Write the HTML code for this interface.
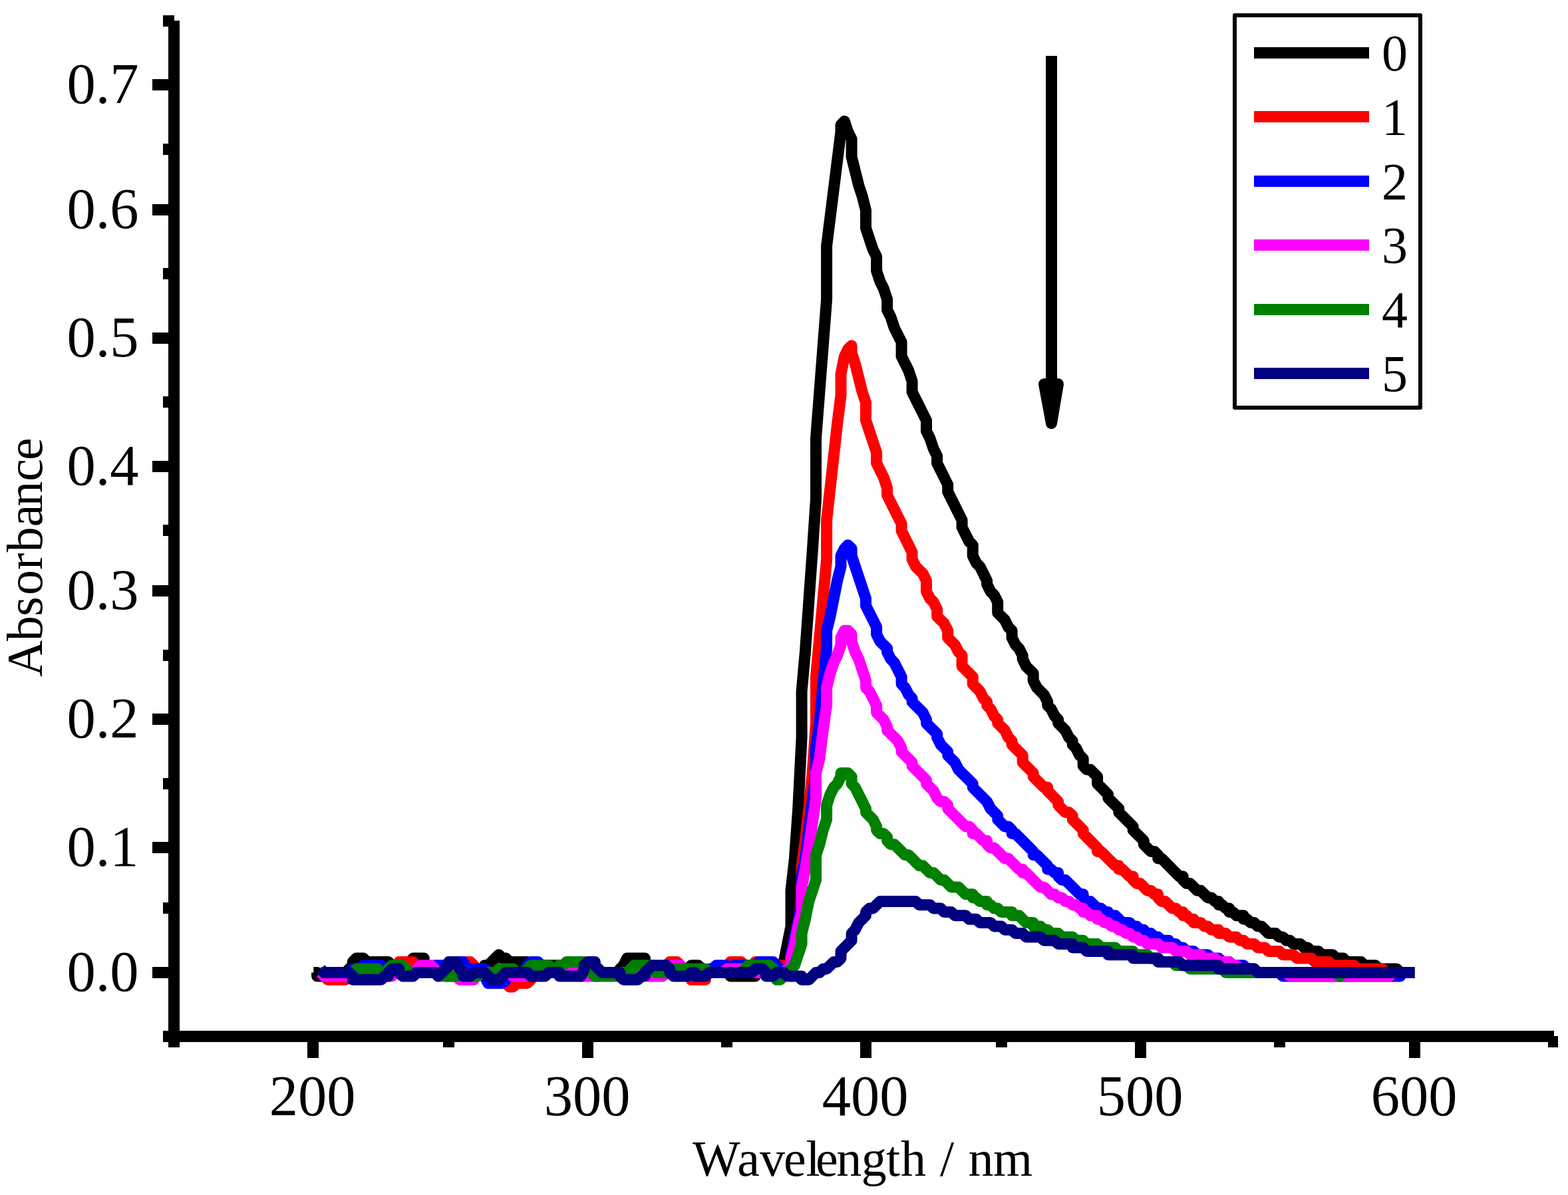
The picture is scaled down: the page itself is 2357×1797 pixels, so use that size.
<!DOCTYPE html>
<html lang="en"><head><meta charset="utf-8"><title>Absorbance vs Wavelength</title>
<style>html,body{margin:0;padding:0;background:#fff}body{width:2357px;height:1797px;overflow:hidden}svg{display:block}text{font-family:"Liberation Serif","Times New Roman",Times,serif;fill:#000}</style>
</head><body>
<svg xmlns="http://www.w3.org/2000/svg" width="2357" height="1797" viewBox="0 0 2357 1797">
<rect x="0" y="0" width="2357" height="1797" fill="#fff"/>
<g fill="none" stroke-width="17" stroke-linejoin="round" stroke-linecap="butt">
<path d="M471.3 1462.5 L476.6 1462.5 L476.6 1467.9 L503.4 1467.9 L508.8 1462.5 L519.5 1462.5 L530.2 1451.8 L530.2 1446.4 L535.5 1441.1 L546.2 1441.1 L551.6 1446.4 L583.7 1446.4 L589.1 1451.8 L594.5 1462.5 L605.2 1462.5 L610.5 1457.1 L615.9 1446.4 L621.2 1441.1 L637.3 1441.1 L637.3 1446.4 L642.7 1457.1 L648.0 1462.5 L723.0 1462.5 L728.4 1457.1 L728.4 1451.8 L733.7 1451.8 L749.8 1435.7 L755.1 1441.1 L760.5 1441.1 L765.9 1446.4 L792.6 1446.4 L798.0 1451.8 L840.8 1451.8 L840.8 1457.1 L846.2 1457.1 L851.6 1462.5 L931.9 1462.5 L931.9 1457.1 L937.3 1451.8 L942.6 1441.1 L969.4 1441.1 L969.4 1446.4 L974.8 1457.1 L980.1 1462.5 L1028.3 1462.5 L1039.0 1451.8 L1049.7 1451.8 L1060.5 1462.5 L1097.9 1462.5 L1097.9 1467.9 L1135.4 1467.9 L1135.4 1462.5 L1140.8 1451.8 L1146.2 1446.4 L1156.9 1446.4 L1172.9 1462.5 L1172.9 1457.1 L1178.3 1446.4 L1189.0 1392.9 L1189.0 1339.3 L1194.4 1291.1 L1199.7 1216.1 L1205.1 1109.0 L1205.1 1039.4 L1210.4 980.4 L1221.1 830.5 L1226.5 750.1 L1226.5 659.1 L1242.6 450.2 L1242.6 369.8 L1264.0 198.4 L1264.0 187.7 L1269.4 182.3 L1274.7 198.4 L1280.1 209.1 L1280.1 235.9 L1290.8 278.8 L1296.1 294.8 L1301.5 316.3 L1301.5 343.0 L1312.2 375.2 L1317.6 385.9 L1317.6 407.3 L1322.9 423.4 L1328.3 434.1 L1333.6 450.2 L1333.6 466.2 L1339.0 476.9 L1344.3 493.0 L1355.1 514.4 L1355.1 535.9 L1365.8 557.3 L1371.1 573.4 L1371.1 589.4 L1392.5 632.3 L1392.5 648.3 L1397.9 659.1 L1403.3 675.1 L1408.6 685.8 L1408.6 696.5 L1424.7 728.7 L1424.7 739.4 L1446.1 782.2 L1446.1 793.0 L1456.8 814.4 L1462.2 819.7 L1462.2 835.8 L1467.5 846.5 L1472.9 851.9 L1483.6 873.3 L1483.6 878.7 L1489.0 889.4 L1494.3 894.7 L1499.7 905.4 L1499.7 921.5 L1510.4 932.2 L1515.7 942.9 L1521.1 948.3 L1521.1 959.0 L1526.5 969.7 L1531.8 975.1 L1537.2 985.8 L1537.2 991.1 L1542.5 1001.9 L1553.2 1012.6 L1553.2 1023.3 L1558.6 1034.0 L1569.3 1044.7 L1574.7 1055.4 L1574.7 1060.8 L1580.0 1066.1 L1585.4 1076.8 L1590.7 1082.2 L1590.7 1087.6 L1601.4 1098.3 L1606.8 1109.0 L1612.2 1114.3 L1612.2 1119.7 L1617.5 1125.1 L1622.9 1135.8 L1628.2 1141.1 L1628.2 1151.8 L1633.6 1157.2 L1638.9 1157.2 L1649.6 1167.9 L1649.6 1178.6 L1665.7 1194.7 L1665.7 1200.0 L1681.8 1216.1 L1681.8 1221.5 L1703.2 1242.9 L1703.2 1248.2 L1719.3 1264.3 L1719.3 1269.7 L1730.0 1280.4 L1735.3 1280.4 L1740.7 1285.7 L1740.7 1291.1 L1746.1 1291.1 L1772.8 1317.9 L1778.2 1317.9 L1778.2 1323.2 L1783.6 1328.6 L1788.9 1328.6 L1799.6 1339.3 L1805.0 1339.3 L1815.7 1350.0 L1821.0 1350.0 L1826.4 1355.4 L1831.8 1355.4 L1831.8 1360.7 L1837.1 1360.7 L1842.5 1366.1 L1847.8 1366.1 L1847.8 1371.4 L1853.2 1371.4 L1858.5 1376.8 L1869.3 1376.8 L1869.3 1382.2 L1874.6 1382.2 L1880.0 1387.5 L1885.3 1387.5 L1890.7 1392.9 L1896.0 1392.9 L1906.8 1403.6 L1917.5 1403.6 L1922.8 1408.9 L1928.2 1408.9 L1933.5 1414.3 L1938.9 1414.3 L1944.2 1419.6 L1955.0 1419.6 L1960.3 1425.0 L1965.7 1425.0 L1971.0 1430.4 L1981.7 1430.4 L1987.1 1435.7 L2003.2 1435.7 L2008.5 1441.1 L2019.2 1441.1 L2024.6 1446.4 L2046.0 1446.4 L2051.4 1451.8 L2067.4 1451.8 L2072.8 1457.1 L2099.6 1457.1 L2104.9 1462.5 L2126.4 1462.5" stroke="#000000"/>
<path d="M482.0 1462.5 L487.3 1462.5 L492.7 1467.9 L492.7 1473.2 L519.5 1473.2 L530.2 1462.5 L594.5 1462.5 L599.8 1457.1 L599.8 1446.4 L621.2 1446.4 L621.2 1451.8 L632.0 1462.5 L690.9 1462.5 L696.2 1451.8 L696.2 1446.4 L706.9 1446.4 L712.3 1451.8 L712.3 1457.1 L728.4 1457.1 L733.7 1462.5 L749.8 1462.5 L749.8 1467.9 L765.9 1483.9 L771.2 1483.9 L776.6 1478.6 L792.6 1478.6 L798.0 1473.2 L803.4 1462.5 L996.2 1462.5 L1001.5 1451.8 L1006.9 1446.4 L1017.6 1446.4 L1033.7 1462.5 L1039.0 1473.2 L1060.5 1473.2 L1060.5 1467.9 L1065.8 1462.5 L1092.6 1462.5 L1097.9 1457.1 L1097.9 1446.4 L1114.0 1446.4 L1124.7 1457.1 L1130.1 1457.1 L1135.4 1446.4 L1151.5 1446.4 L1156.9 1451.8 L1189.0 1451.8 L1189.0 1441.1 L1194.4 1419.6 L1199.7 1387.5 L1205.1 1350.0 L1205.1 1301.8 L1210.4 1264.3 L1215.8 1216.1 L1221.1 1162.5 L1226.5 1087.6 L1226.5 1017.9 L1242.6 841.2 L1242.6 782.2 L1258.6 637.6 L1264.0 594.8 L1264.0 562.6 L1269.4 535.9 L1274.7 525.1 L1280.1 519.8 L1280.1 530.5 L1285.4 546.6 L1296.1 589.4 L1301.5 605.5 L1301.5 632.3 L1317.6 680.5 L1317.6 696.5 L1328.3 718.0 L1333.6 734.0 L1333.6 744.8 L1355.1 787.6 L1355.1 798.3 L1371.1 830.5 L1371.1 841.2 L1376.5 851.9 L1387.2 862.6 L1392.5 873.3 L1392.5 889.4 L1397.9 900.1 L1403.3 905.4 L1408.6 916.2 L1408.6 926.9 L1419.3 937.6 L1424.7 948.3 L1424.7 959.0 L1435.4 969.7 L1440.8 980.4 L1446.1 985.8 L1446.1 1001.9 L1462.2 1017.9 L1462.2 1028.6 L1472.9 1039.4 L1478.2 1050.1 L1483.6 1055.4 L1483.6 1060.8 L1489.0 1066.1 L1494.3 1076.8 L1499.7 1082.2 L1499.7 1087.6 L1510.4 1098.3 L1515.7 1109.0 L1521.1 1114.3 L1521.1 1119.7 L1537.2 1135.8 L1537.2 1146.5 L1553.2 1162.5 L1553.2 1167.9 L1569.3 1184.0 L1574.7 1184.0 L1574.7 1189.3 L1590.7 1205.4 L1590.7 1210.8 L1601.4 1221.5 L1606.8 1221.5 L1612.2 1226.8 L1612.2 1232.2 L1628.2 1248.2 L1628.2 1253.6 L1649.6 1275.0 L1649.6 1280.4 L1655.0 1280.4 L1676.4 1301.8 L1681.8 1301.8 L1681.8 1307.2 L1687.1 1307.2 L1697.9 1317.9 L1703.2 1317.9 L1703.2 1323.2 L1708.6 1328.6 L1713.9 1328.6 L1724.6 1339.3 L1730.0 1339.3 L1735.3 1344.7 L1740.7 1344.7 L1740.7 1350.0 L1746.1 1355.4 L1751.4 1355.4 L1762.1 1366.1 L1767.5 1366.1 L1772.8 1371.4 L1778.2 1371.4 L1778.2 1376.8 L1783.6 1376.8 L1788.9 1382.2 L1794.3 1382.2 L1794.3 1387.5 L1805.0 1387.5 L1810.3 1392.9 L1815.7 1392.9 L1821.0 1398.2 L1831.8 1398.2 L1831.8 1403.6 L1842.5 1403.6 L1847.8 1408.9 L1858.5 1408.9 L1863.9 1414.3 L1869.3 1414.3 L1874.6 1419.6 L1885.3 1419.6 L1890.7 1425.0 L1901.4 1425.0 L1906.8 1430.4 L1922.8 1430.4 L1928.2 1435.7 L1944.2 1435.7 L1949.6 1441.1 L1971.0 1441.1 L1976.4 1446.4 L1997.8 1446.4 L2003.2 1451.8 L2035.3 1451.8 L2040.7 1457.1 L2078.2 1457.1 L2083.5 1462.5 L2126.4 1462.5" stroke="#ff0000"/>
<path d="M482.0 1462.5 L524.8 1462.5 L530.2 1457.1 L540.9 1457.1 L546.2 1451.8 L573.0 1451.8 L583.7 1462.5 L642.7 1462.5 L653.4 1451.8 L674.8 1451.8 L674.8 1446.4 L696.2 1446.4 L701.6 1457.1 L728.4 1457.1 L728.4 1467.9 L733.7 1478.6 L755.1 1478.6 L760.5 1473.2 L765.9 1462.5 L787.3 1462.5 L792.6 1451.8 L798.0 1446.4 L808.7 1446.4 L814.1 1451.8 L819.4 1462.5 L1060.5 1462.5 L1065.8 1457.1 L1071.2 1457.1 L1076.5 1451.8 L1092.6 1451.8 L1097.9 1457.1 L1103.3 1451.8 L1135.4 1451.8 L1140.8 1446.4 L1162.2 1446.4 L1172.9 1457.1 L1172.9 1462.5 L1178.3 1462.5 L1189.0 1451.8 L1189.0 1435.7 L1194.4 1408.9 L1199.7 1387.5 L1205.1 1355.4 L1205.1 1317.9 L1210.4 1291.1 L1226.5 1162.5 L1226.5 1125.1 L1231.9 1087.6 L1237.2 1028.6 L1242.6 975.1 L1242.6 948.3 L1247.9 926.9 L1258.6 873.3 L1264.0 851.9 L1264.0 835.8 L1269.4 825.1 L1274.7 819.7 L1280.1 825.1 L1280.1 835.8 L1301.5 900.1 L1301.5 910.8 L1317.6 942.9 L1317.6 953.7 L1322.9 964.4 L1333.6 975.1 L1333.6 980.4 L1339.0 991.1 L1344.3 996.5 L1355.1 1017.9 L1355.1 1028.6 L1360.4 1034.0 L1365.8 1044.7 L1371.1 1050.1 L1371.1 1055.4 L1387.2 1071.5 L1392.5 1082.2 L1392.5 1087.6 L1408.6 1103.6 L1408.6 1109.0 L1414.0 1119.7 L1424.7 1130.4 L1424.7 1135.8 L1435.4 1146.5 L1440.8 1157.2 L1462.2 1178.6 L1462.2 1184.0 L1483.6 1205.4 L1489.0 1216.1 L1499.7 1226.8 L1499.7 1232.2 L1510.4 1242.9 L1515.7 1242.9 L1521.1 1248.2 L1521.1 1253.6 L1526.5 1253.6 L1553.2 1280.4 L1553.2 1285.7 L1558.6 1285.7 L1574.7 1301.8 L1574.7 1307.2 L1580.0 1307.2 L1585.4 1312.5 L1590.7 1312.5 L1590.7 1317.9 L1596.1 1323.2 L1601.4 1323.2 L1622.9 1344.7 L1628.2 1344.7 L1628.2 1350.0 L1633.6 1355.4 L1638.9 1355.4 L1649.6 1366.1 L1655.0 1366.1 L1660.4 1371.4 L1665.7 1371.4 L1665.7 1376.8 L1676.4 1376.8 L1687.1 1387.5 L1697.9 1387.5 L1703.2 1392.9 L1708.6 1392.9 L1713.9 1398.2 L1719.3 1398.2 L1719.3 1403.6 L1730.0 1403.6 L1735.3 1408.9 L1740.7 1408.9 L1746.1 1414.3 L1756.8 1414.3 L1756.8 1419.6 L1767.5 1419.6 L1772.8 1425.0 L1778.2 1425.0 L1783.6 1430.4 L1794.3 1430.4 L1799.6 1435.7 L1815.7 1435.7 L1821.0 1441.1 L1831.8 1441.1 L1837.1 1446.4 L1847.8 1446.4 L1853.2 1451.8 L1869.3 1451.8 L1874.6 1457.1 L1885.3 1457.1 L1885.3 1462.5 L1922.8 1462.5 L1928.2 1467.9 L2104.9 1467.9 L2104.9 1462.5 L2126.4 1462.5" stroke="#0000ff"/>
<path d="M482.0 1462.5 L487.3 1467.9 L524.8 1467.9 L530.2 1462.5 L573.0 1462.5 L578.4 1467.9 L589.1 1467.9 L594.5 1462.5 L621.2 1462.5 L632.0 1451.8 L648.0 1451.8 L658.7 1462.5 L658.7 1467.9 L685.5 1467.9 L690.9 1473.2 L712.3 1473.2 L712.3 1467.9 L717.7 1462.5 L765.9 1462.5 L771.2 1467.9 L792.6 1467.9 L798.0 1462.5 L824.8 1462.5 L824.8 1457.1 L840.8 1457.1 L846.2 1462.5 L867.6 1462.5 L873.0 1467.9 L899.8 1467.9 L905.1 1462.5 L969.4 1462.5 L974.8 1467.9 L996.2 1467.9 L1001.5 1462.5 L1006.9 1451.8 L1023.0 1451.8 L1023.0 1457.1 L1028.3 1462.5 L1087.2 1462.5 L1092.6 1457.1 L1119.4 1457.1 L1124.7 1462.5 L1178.3 1462.5 L1183.6 1457.1 L1189.0 1457.1 L1189.0 1441.1 L1194.4 1419.6 L1199.7 1392.9 L1205.1 1371.4 L1205.1 1333.9 L1210.4 1307.2 L1215.8 1275.0 L1226.5 1200.0 L1226.5 1162.5 L1231.9 1141.1 L1237.2 1098.3 L1242.6 1060.8 L1242.6 1034.0 L1247.9 1012.6 L1253.3 996.5 L1258.6 985.8 L1264.0 969.7 L1264.0 959.0 L1269.4 948.3 L1274.7 948.3 L1280.1 953.7 L1280.1 964.4 L1285.4 980.4 L1290.8 991.1 L1301.5 1023.3 L1301.5 1034.0 L1306.8 1039.4 L1317.6 1060.8 L1317.6 1071.5 L1328.3 1082.2 L1333.6 1092.9 L1333.6 1098.3 L1349.7 1114.3 L1355.1 1125.1 L1355.1 1130.4 L1371.1 1146.5 L1371.1 1151.8 L1392.5 1173.3 L1392.5 1178.6 L1403.3 1189.3 L1408.6 1200.0 L1414.0 1205.4 L1419.3 1205.4 L1424.7 1210.8 L1424.7 1216.1 L1451.5 1242.9 L1456.8 1242.9 L1462.2 1248.2 L1462.2 1253.6 L1467.5 1253.6 L1478.2 1264.3 L1483.6 1264.3 L1483.6 1269.7 L1489.0 1275.0 L1494.3 1275.0 L1510.4 1291.1 L1515.7 1291.1 L1531.8 1307.2 L1537.2 1307.2 L1537.2 1312.5 L1542.5 1312.5 L1563.9 1333.9 L1569.3 1333.9 L1580.0 1344.7 L1585.4 1344.7 L1590.7 1350.0 L1596.1 1350.0 L1601.4 1355.4 L1606.8 1355.4 L1612.2 1360.7 L1617.5 1360.7 L1622.9 1366.1 L1628.2 1366.1 L1628.2 1371.4 L1633.6 1371.4 L1638.9 1376.8 L1649.6 1376.8 L1649.6 1382.2 L1655.0 1382.2 L1660.4 1387.5 L1665.7 1387.5 L1671.1 1392.9 L1676.4 1392.9 L1681.8 1398.2 L1687.1 1398.2 L1692.5 1403.6 L1697.9 1403.6 L1703.2 1408.9 L1708.6 1408.9 L1713.9 1414.3 L1719.3 1414.3 L1724.6 1419.6 L1740.7 1419.6 L1746.1 1425.0 L1762.1 1425.0 L1767.5 1430.4 L1783.6 1430.4 L1788.9 1435.7 L1805.0 1435.7 L1810.3 1441.1 L1826.4 1441.1 L1831.8 1446.4 L1847.8 1446.4 L1847.8 1451.8 L1858.5 1451.8 L1863.9 1457.1 L1885.3 1457.1 L1885.3 1462.5 L1933.5 1462.5 L1938.9 1467.9 L2088.9 1467.9 L2094.2 1462.5 L2121.0 1462.5" stroke="#ff00ff"/>
<path d="M482.0 1462.5 L530.2 1462.5 L535.5 1457.1 L567.7 1457.1 L567.7 1462.5 L583.7 1462.5 L583.7 1457.1 L589.1 1451.8 L605.2 1451.8 L615.9 1462.5 L664.1 1462.5 L669.4 1467.9 L685.5 1467.9 L690.9 1462.5 L696.2 1462.5 L701.6 1467.9 L717.7 1467.9 L723.0 1462.5 L744.4 1462.5 L749.8 1457.1 L771.2 1457.1 L776.6 1462.5 L787.3 1462.5 L798.0 1451.8 L824.8 1451.8 L830.1 1457.1 L835.5 1457.1 L840.8 1451.8 L846.2 1451.8 L851.6 1446.4 L878.3 1446.4 L883.7 1451.8 L889.1 1462.5 L894.4 1467.9 L931.9 1467.9 L937.3 1462.5 L948.0 1462.5 L948.0 1457.1 L953.3 1451.8 L980.1 1451.8 L985.5 1457.1 L985.5 1462.5 L1006.9 1462.5 L1006.9 1457.1 L1060.5 1457.1 L1065.8 1462.5 L1114.0 1462.5 L1124.7 1451.8 L1156.9 1451.8 L1162.2 1457.1 L1167.6 1473.2 L1172.9 1473.2 L1194.4 1451.8 L1205.1 1419.6 L1205.1 1403.6 L1210.4 1382.2 L1215.8 1355.4 L1226.5 1323.2 L1226.5 1285.7 L1231.9 1269.7 L1237.2 1248.2 L1242.6 1232.2 L1242.6 1210.8 L1247.9 1194.7 L1253.3 1184.0 L1258.6 1178.6 L1264.0 1167.9 L1264.0 1162.5 L1274.7 1162.5 L1280.1 1167.9 L1280.1 1178.6 L1285.4 1184.0 L1301.5 1216.1 L1301.5 1221.5 L1312.2 1232.2 L1317.6 1242.9 L1317.6 1248.2 L1322.9 1253.6 L1328.3 1253.6 L1333.6 1259.0 L1333.6 1264.3 L1339.0 1269.7 L1344.3 1269.7 L1360.4 1285.7 L1365.8 1285.7 L1381.8 1301.8 L1387.2 1301.8 L1397.9 1312.5 L1403.3 1312.5 L1414.0 1323.2 L1419.3 1323.2 L1430.0 1333.9 L1440.8 1333.9 L1451.5 1344.7 L1462.2 1344.7 L1462.2 1350.0 L1467.5 1350.0 L1472.9 1355.4 L1483.6 1355.4 L1483.6 1360.7 L1489.0 1360.7 L1494.3 1366.1 L1499.7 1366.1 L1505.0 1371.4 L1521.1 1371.4 L1521.1 1376.8 L1531.8 1376.8 L1542.5 1387.5 L1553.2 1387.5 L1553.2 1392.9 L1563.9 1392.9 L1569.3 1398.2 L1574.7 1398.2 L1580.0 1403.6 L1590.7 1403.6 L1596.1 1408.9 L1612.2 1408.9 L1617.5 1414.3 L1628.2 1414.3 L1633.6 1419.6 L1649.6 1419.6 L1655.0 1425.0 L1676.4 1425.0 L1681.8 1430.4 L1703.2 1430.4 L1703.2 1435.7 L1724.6 1435.7 L1730.0 1441.1 L1740.7 1441.1 L1746.1 1446.4 L1762.1 1446.4 L1767.5 1451.8 L1783.6 1451.8 L1788.9 1457.1 L1837.1 1457.1 L1842.5 1462.5 L2008.5 1462.5 L2013.9 1467.9 L2019.2 1462.5 L2126.4 1462.5" stroke="#008000"/>
<path d="M482.0 1457.1 L487.3 1462.5 L524.8 1462.5 L530.2 1467.9 L530.2 1473.2 L573.0 1473.2 L578.4 1467.9 L583.7 1467.9 L583.7 1462.5 L589.1 1457.1 L599.8 1457.1 L599.8 1462.5 L605.2 1467.9 L621.2 1467.9 L626.6 1462.5 L653.4 1462.5 L658.7 1467.9 L674.8 1451.8 L674.8 1446.4 L685.5 1446.4 L690.9 1457.1 L696.2 1462.5 L696.2 1467.9 L706.9 1467.9 L712.3 1462.5 L728.4 1462.5 L739.1 1473.2 L749.8 1473.2 L760.5 1462.5 L792.6 1462.5 L798.0 1467.9 L819.4 1467.9 L824.8 1462.5 L840.8 1462.5 L840.8 1467.9 L873.0 1467.9 L878.3 1457.1 L878.3 1451.8 L883.7 1446.4 L894.4 1446.4 L894.4 1451.8 L905.1 1462.5 L931.9 1462.5 L931.9 1467.9 L937.3 1473.2 L958.7 1473.2 L964.0 1467.9 L969.4 1467.9 L969.4 1462.5 L980.1 1451.8 L1001.5 1451.8 L1006.9 1457.1 L1006.9 1462.5 L1012.2 1467.9 L1033.7 1467.9 L1039.0 1462.5 L1044.4 1462.5 L1044.4 1467.9 L1060.5 1467.9 L1065.8 1462.5 L1130.1 1462.5 L1135.4 1457.1 L1146.2 1457.1 L1151.5 1462.5 L1151.5 1467.9 L1162.2 1467.9 L1167.6 1462.5 L1178.3 1462.5 L1183.6 1467.9 L1205.1 1467.9 L1205.1 1473.2 L1215.8 1473.2 L1226.5 1462.5 L1231.9 1462.5 L1237.2 1457.1 L1242.6 1457.1 L1253.3 1446.4 L1258.6 1446.4 L1264.0 1441.1 L1264.0 1430.4 L1280.1 1414.3 L1280.1 1403.6 L1285.4 1398.2 L1290.8 1387.5 L1301.5 1376.8 L1301.5 1371.4 L1306.8 1366.1 L1312.2 1366.1 L1322.9 1355.4 L1376.5 1355.4 L1381.8 1360.7 L1397.9 1360.7 L1403.3 1366.1 L1414.0 1366.1 L1419.3 1371.4 L1430.0 1371.4 L1435.4 1376.8 L1451.5 1376.8 L1456.8 1382.2 L1467.5 1382.2 L1472.9 1387.5 L1489.0 1387.5 L1494.3 1392.9 L1505.0 1392.9 L1510.4 1398.2 L1521.1 1398.2 L1526.5 1403.6 L1537.2 1403.6 L1542.5 1408.9 L1563.9 1408.9 L1569.3 1414.3 L1585.4 1414.3 L1590.7 1419.6 L1612.2 1419.6 L1612.2 1425.0 L1628.2 1425.0 L1633.6 1430.4 L1665.7 1430.4 L1665.7 1435.7 L1703.2 1435.7 L1703.2 1441.1 L1740.7 1441.1 L1740.7 1446.4 L1772.8 1446.4 L1778.2 1451.8 L1831.8 1451.8 L1831.8 1457.1 L1885.3 1457.1 L1890.7 1462.5 L2126.4 1462.5" stroke="#000080"/>
</g>
<g fill="#000" shape-rendering="crispEdges">
<rect x="253" y="31" width="17" height="1544"/>
<rect x="245" y="1550" width="2091" height="17"/>
<rect x="245" y="23" width="17" height="17"/>
<rect x="229" y="119" width="33" height="17"/>
<rect x="245" y="216" width="17" height="17"/>
<rect x="229" y="307" width="33" height="17"/>
<rect x="245" y="403" width="17" height="17"/>
<rect x="229" y="500" width="33" height="17"/>
<rect x="245" y="596" width="17" height="17"/>
<rect x="229" y="693" width="33" height="17"/>
<rect x="245" y="789" width="17" height="17"/>
<rect x="229" y="880" width="33" height="17"/>
<rect x="245" y="977" width="17" height="17"/>
<rect x="229" y="1073" width="33" height="17"/>
<rect x="245" y="1170" width="17" height="17"/>
<rect x="229" y="1266" width="33" height="17"/>
<rect x="245" y="1357" width="17" height="17"/>
<rect x="229" y="1454" width="33" height="17"/>
<rect x="245" y="1550" width="17" height="17"/>
<rect x="462" y="1558" width="17" height="33"/>
<rect x="666" y="1558" width="17" height="17"/>
<rect x="875" y="1558" width="17" height="33"/>
<rect x="1084" y="1558" width="17" height="17"/>
<rect x="1293" y="1558" width="17" height="33"/>
<rect x="1497" y="1558" width="17" height="17"/>
<rect x="1706" y="1558" width="17" height="33"/>
<rect x="1915" y="1558" width="17" height="17"/>
<rect x="2118" y="1558" width="17" height="33"/>
<rect x="2327" y="1558" width="15" height="17"/>
</g>
<g font-size="86.5">
<text x="208.5" y="154.5" text-anchor="end">0.7</text>
<text x="208.5" y="342.5" text-anchor="end">0.6</text>
<text x="208.5" y="535.5" text-anchor="end">0.5</text>
<text x="208.5" y="728.5" text-anchor="end">0.4</text>
<text x="208.5" y="915.5" text-anchor="end">0.3</text>
<text x="208.5" y="1108.5" text-anchor="end">0.2</text>
<text x="208.5" y="1301.5" text-anchor="end">0.1</text>
<text x="208.5" y="1489.5" text-anchor="end">0.0</text>
<text x="469.5" y="1676.5" text-anchor="middle">200</text>
<text x="882.5" y="1676.5" text-anchor="middle">300</text>
<text x="1300.5" y="1676.5" text-anchor="middle">400</text>
<text x="1713.5" y="1676.5" text-anchor="middle">500</text>
<text x="2125.5" y="1676.5" text-anchor="middle">600</text>
</g>
<text x="1040.9 1108.2 1142.1 1177.9 1211.6 1226.0 1257.3 1294.7 1332.1 1354.1 1392.0 1413.1 1434.0 1455.5 1493.0" y="1768" font-size="76">Wavelength / nm</text>
<text transform="translate(63.3 1017.7) rotate(-90)" x="0.0 53.8 90.9 122.8 160.6 187.5 225.5 256.3 293.9 325.6" y="0" font-size="76">Absorbance</text>
<rect x="1572" y="84" width="17" height="495" fill="#000" shape-rendering="crispEdges"/>
<path d="M1569.5 577.5 L1590.5 577.5 L1580.5 636.5 Z" fill="#000" stroke="#000" stroke-width="17" stroke-linejoin="round"/>
<rect x="1856" y="23" width="279" height="590" fill="#fff" stroke="#000" stroke-width="6" stroke-linejoin="round"/>
<rect x="1885" y="71" width="173" height="17" fill="#000000" shape-rendering="crispEdges"/>
<text x="2077" y="106.0" font-size="78">0</text>
<rect x="1885" y="167" width="173" height="17" fill="#ff0000" shape-rendering="crispEdges"/>
<text x="2077" y="202.0" font-size="78">1</text>
<rect x="1885" y="264" width="173" height="17" fill="#0000ff" shape-rendering="crispEdges"/>
<text x="2077" y="299.0" font-size="78">2</text>
<rect x="1885" y="360" width="173" height="17" fill="#ff00ff" shape-rendering="crispEdges"/>
<text x="2077" y="395.0" font-size="78">3</text>
<rect x="1885" y="457" width="173" height="17" fill="#008000" shape-rendering="crispEdges"/>
<text x="2077" y="492.0" font-size="78">4</text>
<rect x="1885" y="553" width="173" height="17" fill="#000080" shape-rendering="crispEdges"/>
<text x="2077" y="588.0" font-size="78">5</text>
</svg>
</body></html>
